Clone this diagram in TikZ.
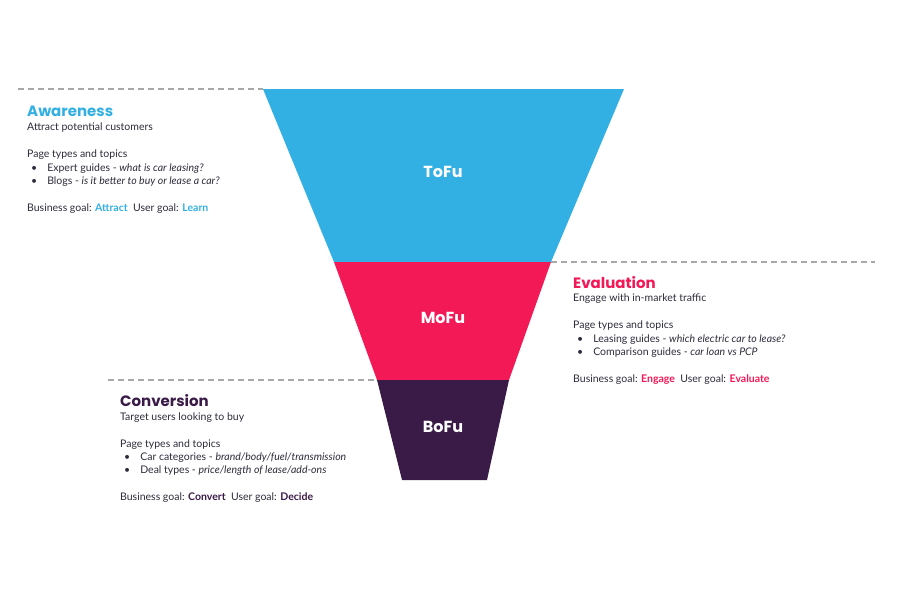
\documentclass[tikz,border=0pt]{standalone}
\usepackage{fontspec}
\setmainfont{Lato}
\newfontfamily\headf{Poppins}
\definecolor{cblue}{HTML}{33B0E3}
\definecolor{cpink}{HTML}{F31856}
\definecolor{cdark}{HTML}{3A1A47}
\definecolor{ctext}{HTML}{2E2A3A}
\definecolor{cgrey}{HTML}{A8A8A8}
\begin{document}
\begin{tikzpicture}[x=1pt,y=-1pt,
  dashline/.style={draw=cgrey,line width=1.2pt,dash pattern=on 6pt off 4pt},
  body/.style={anchor=west,inner sep=0pt,text=ctext,font=\fontsize{10.5}{12}\selectfont},
  head/.style={anchor=west,inner sep=0pt,font=\headf\bfseries\fontsize{15}{16}\selectfont},
  lbl/.style={text=white,font=\headf\bfseries\fontsize{16}{18}\selectfont}]
\useasboundingbox (0,0) rectangle (900,600);
\fill[cblue] (263,89) -- (624,89) -- (551,262) -- (334,262) -- cycle;
\fill[cpink] (334,262) -- (551,262) -- (509,380) -- (377,380) -- cycle;
\fill[cdark] (377,380) -- (509,380) -- (487,480) -- (402,480) -- cycle;
\node[lbl] (tofu) at (443,172) {ToFu};
\node[lbl] (mofu) at (443,318) {MoFu};
\node[lbl] (bofu) at (443,427) {BoFu};
\coordinate (d1a) at (18,89); \coordinate (d1b) at (263,89);
\coordinate (d2a) at (551,262); \coordinate (d2b) at (875,262);
\coordinate (d3a) at (108,380); \coordinate (d3b) at (377,380);
\draw[dashline] (d1a) -- (d1b);
\draw[dashline] (d2a) -- (d2b);
\draw[dashline] (d3a) -- (d3b);
% Awareness
\node[head,text=cblue] (ah) at (27,111) {Awareness};
\node[body] (a1) at (27,128) {Attract potential customers};
\node[body] (a2) at (27,155) {Page types and topics};
\node[body] (a3) at (31,169) {\textbullet\hspace{10pt}Expert guides - \textit{what is car leasing?}};
\node[body] (a4) at (31,182) {\textbullet\hspace{10pt}Blogs - \textit{is it better to buy or lease a car?}};
\node[body] (a5) at (27,209) {Business goal: \textcolor{cblue}{\textbf{Attract}}\ \ User goal: \textcolor{cblue}{\textbf{Learn}}};
% Evaluation
\node[head,text=cpink] (eh) at (573,283) {Evaluation};
\node[body] (e1) at (573,299) {Engage with in-market traffic};
\node[body] (e2) at (573,326) {Page types and topics};
\node[body] (e3) at (577,340) {\textbullet\hspace{10pt}Leasing guides - \textit{which electric car to lease?}};
\node[body] (e4) at (577,353) {\textbullet\hspace{10pt}Comparison guides - \textit{car loan vs PCP}};
\node[body] (e5) at (573,380) {Business goal: \textcolor{cpink}{\textbf{Engage}}\ \ User goal: \textcolor{cpink}{\textbf{Evaluate}}};
% Conversion
\node[head,text=cdark] (ch) at (120,401) {Conversion};
\node[body] (c1) at (120,418) {Target users looking to buy};
\node[body] (c2) at (120,445) {Page types and topics};
\node[body] (c3) at (124,458) {\textbullet\hspace{10pt}Car categories - \textit{brand/body/fuel/transmission}};
\node[body] (c4) at (124,471) {\textbullet\hspace{10pt}Deal types - \textit{price/length of lease/add-ons}};
\node[body] (c5) at (120,498) {Business goal: \textcolor{cdark}{\textbf{Convert}}\ \ User goal: \textcolor{cdark}{\textbf{Decide}}};
\end{tikzpicture}
\end{document}
